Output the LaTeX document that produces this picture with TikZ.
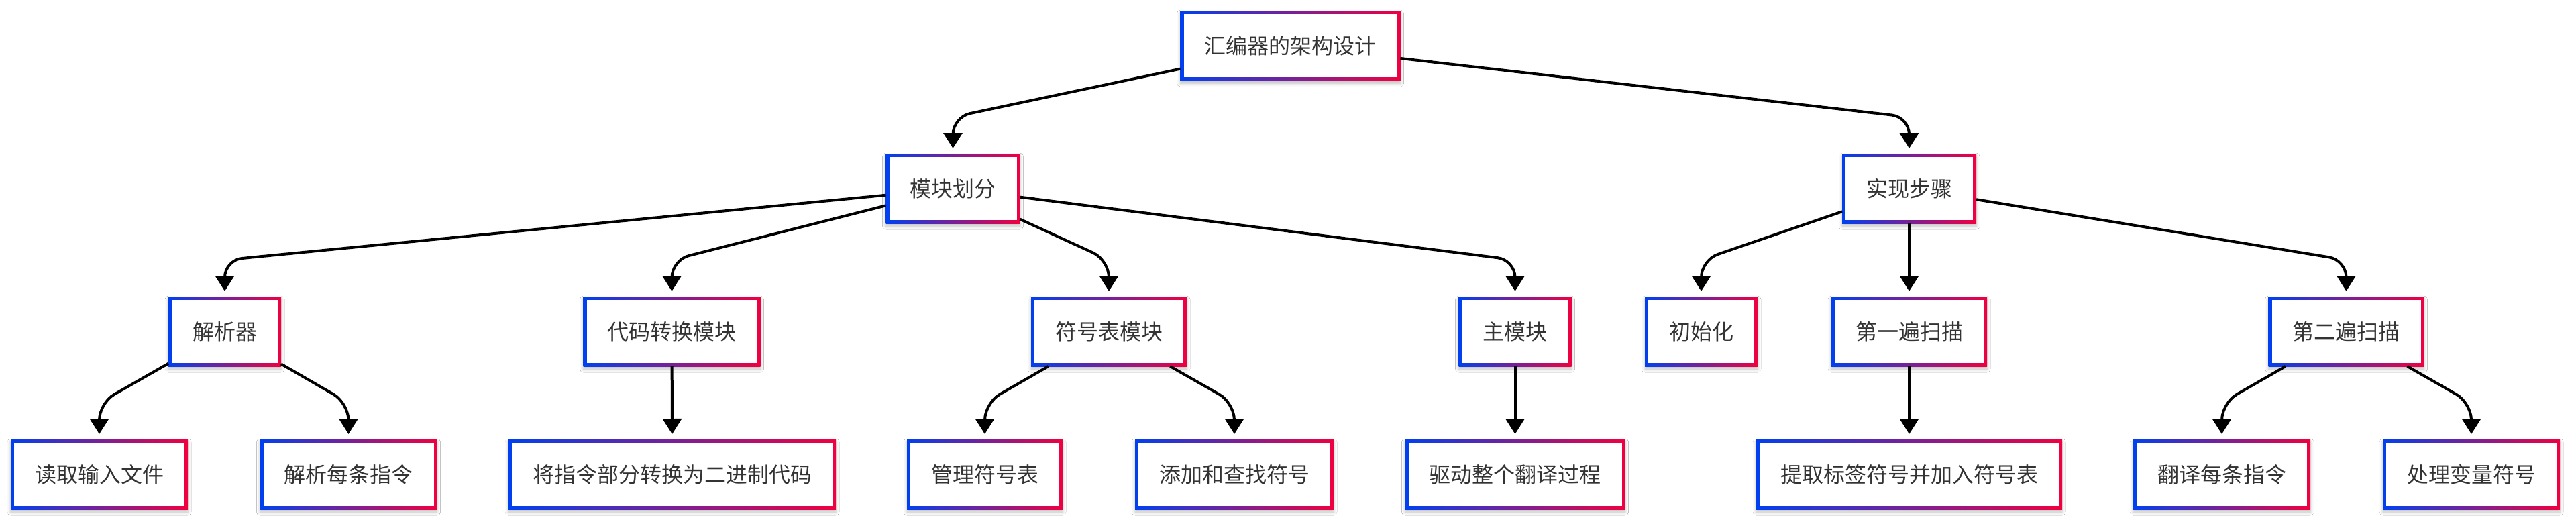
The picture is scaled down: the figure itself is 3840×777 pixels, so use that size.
\documentclass[tikz,border=0pt]{standalone}
\usepackage{fontspec}
\newfontfamily\cjk{Noto Sans CJK SC}
\usetikzlibrary{arrows.meta,shadows.blur}
\definecolor{bl}{RGB}{0,64,240}
\definecolor{rd}{RGB}{240,0,64}
\definecolor{txt}{RGB}{51,51,51}
\tikzset{
  box/.style={rectangle, left color=bl, right color=rd, minimum height=104pt,
    inner xsep=36pt, inner ysep=0pt, outer sep=0pt, text=txt,
    font=\cjk\fontsize{32}{38}\selectfont,
    blur shadow={shadow xshift=0pt, shadow yshift=-4pt, shadow blur radius=5pt, shadow opacity=25},
    path picture={\fill[white] ([xshift=5pt,yshift=-5pt]path picture bounding box.north west) rectangle ([xshift=-5pt,yshift=5pt]path picture bounding box.south east);}},
  arr/.style={line width=4pt, rounded corners=26pt, -{Triangle[width=28pt,length=23pt]}}
}
\newcommand\bentedge[3]{\draw[arr] (#1) -- (#2.north |- 0,#3) -- ([yshift=8pt]#2.north);}
\newcommand\straightedge[2]{\draw[arr] (#1) -- ([yshift=8pt]#2.north);}
\begin{document}
\begin{tikzpicture}[x=1pt,y=-1pt]
\useasboundingbox[fill=white] (0,0) rectangle (3840,777);
% level 0
\node[box] (root) at (1923.5,68) {汇编器的架构设计};
% level 1
\node[box] (mk) at (1420.5,281) {模块划分};
\node[box] (sx) at (2846,281) {实现步骤};
% level 2
\node[box] (jx) at (335,494) {解析器};
\node[box] (dm) at (1001.5,494) {代码转换模块};
\node[box] (fh) at (1653,494) {符号表模块};
\node[box] (zm) at (2258.5,494) {主模块};
\node[box] (csh) at (2536,494) {初始化};
\node[box] (d1) at (2846,494) {第一遍扫描};
\node[box] (d2) at (3497.5,494) {第二遍扫描};
% level 3
\node[box] (r1) at (148,707) {读取输入文件};
\node[box] (r2) at (519.5,707) {解析每条指令};
\node[box] (c1) at (1002,707) {将指令部分转换为二进制代码};
\node[box] (f1) at (1468,707) {管理符号表};
\node[box] (f2) at (1840,707) {添加和查找符号};
\node[box] (z1) at (2258.5,707) {驱动整个翻译过程};
\node[box] (t1) at (2846,707) {提取标签符号并加入符号表};
\node[box] (e1) at (3312,707) {翻译每条指令};
\node[box] (e2) at (3684,707) {处理变量符号};
% edges
\bentedge{root}{mk}{174.5}
\bentedge{root}{sx}{174.5}
\bentedge{mk}{jx}{387.5}
\bentedge{mk}{dm}{387.5}
\bentedge{mk}{fh}{387.5}
\bentedge{mk}{zm}{387.5}
\bentedge{sx}{csh}{387.5}
\straightedge{sx}{d1}
\bentedge{sx}{d2}{387.5}
\bentedge{jx}{r1}{600.5}
\bentedge{jx}{r2}{600.5}
\straightedge{dm}{c1}
\bentedge{fh}{f1}{600.5}
\bentedge{fh}{f2}{600.5}
\straightedge{zm}{z1}
\straightedge{d1}{t1}
\bentedge{d2}{e1}{600.5}
\bentedge{d2}{e2}{600.5}
\end{tikzpicture}
\end{document}
